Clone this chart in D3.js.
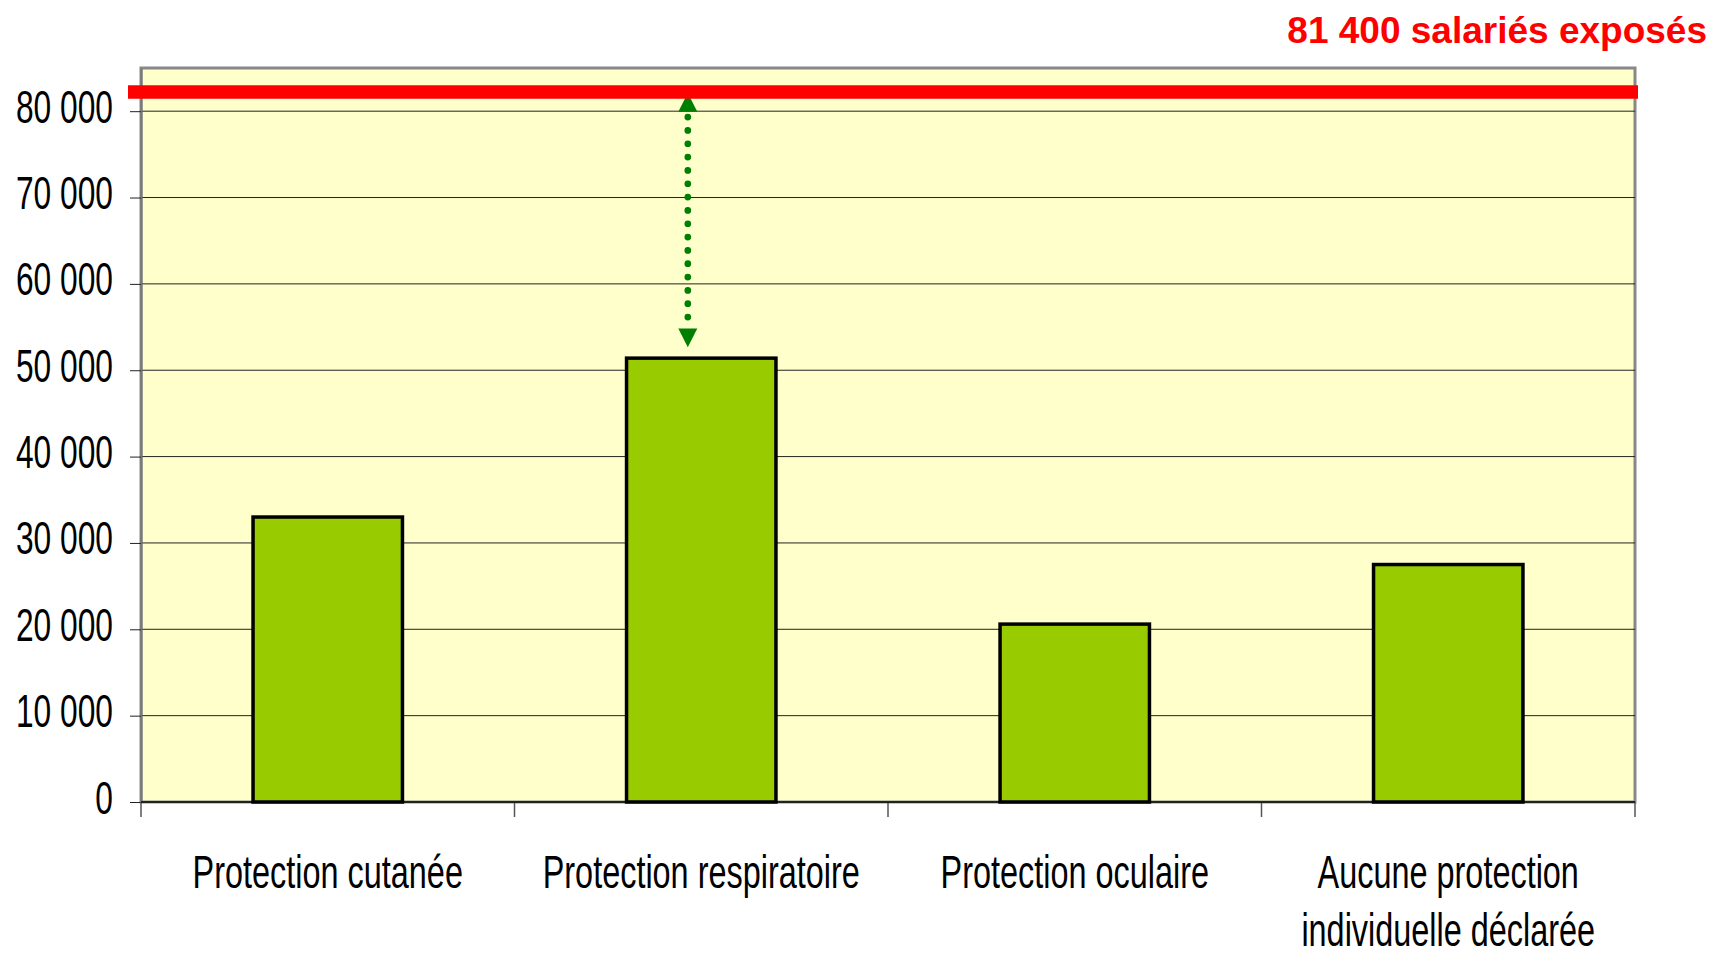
<!DOCTYPE html>
<html>
<head>
<meta charset="utf-8">
<script src="https://cdn.jsdelivr.net/npm/d3@7"></script>
<style>
  body { margin: 0; background: #fff; }
  text { font-family: "Liberation Sans", Arial, sans-serif; }
</style>
</head>
<body>
<svg id="chart"></svg>
<script>
// data
const categories = [
  'Protection cutanée',
  'Protection respiratoire',
  'Protection oculaire',
  'Aucune protection\nindividuelle déclarée',
];
const values = [33000, 51400, 20600, 27500];
const totalExposed = 81400;
const totalLabel = '81 400 salariés exposés';
const yTicks = [0, 10000, 20000, 30000, 40000, 50000, 60000, 70000, 80000];
const yMax = 85000;

const width = 1715;
const height = 955;
const margin = { top: 68, right: 80, bottom: 153, left: 141 };
const chartWidth = width - margin.left - margin.right;
const chartHeight = height - margin.top - margin.bottom;
const squeeze = 0.69; // narrow look of the labels

const fmt = d3.formatLocale({ decimal: ',', thousands: ' ', grouping: [3], currency: ['', ''] }).format(',');

const svg = d3.select('#chart').attr('width', width).attr('height', height);
const g = svg.append('g').attr('transform', `translate(${margin.left}, ${margin.top})`);

const xScale = d3.scaleBand()
  .domain(categories)
  .range([0, chartWidth])
  .paddingInner(0.6)
  .paddingOuter(0.3);

const yScale = d3.scaleLinear()
  .domain([0, yMax])
  .range([chartHeight, 0]);

// plot area
g.append('rect')
  .attr('width', chartWidth)
  .attr('height', chartHeight)
  .attr('fill', '#ffffcc')
  .attr('stroke', '#888')
  .attr('stroke-width', 3);

// gridlines
g.append('g')
  .selectAll('line')
  .data(yTicks.filter((d) => d > 0))
  .enter()
  .append('line')
  .attr('x1', 0)
  .attr('x2', chartWidth)
  .attr('y1', (d) => yScale(d))
  .attr('y2', (d) => yScale(d))
  .attr('stroke', '#222')
  .attr('stroke-width', 1);

// y axis
const yAxis = g.append('g')
  .call(d3.axisLeft(yScale).tickValues(yTicks).tickSize(11).tickSizeOuter(0).tickFormat(fmt));
yAxis.select('.domain').attr('stroke', '#777').attr('stroke-width', 2);
yAxis.selectAll('.tick line').attr('stroke', '#222');
yAxis.selectAll('.tick text')
  .attr('x', null)
  .attr('dy', null)
  .attr('transform', `translate(-28, 11) scale(${squeeze}, 1)`)
  .attr('font-size', 46)
  .attr('fill', '#000')
  .attr('font-family', '"Liberation Sans", Arial, sans-serif');

// x axis: ticks on band edges
const edges = [0].concat(categories.map((c) => xScale(c) + xScale.bandwidth() + xScale.step() * xScale.paddingInner() / 2));
edges[edges.length - 1] = chartWidth;
g.append('g')
  .selectAll('line')
  .data(edges)
  .enter()
  .append('line')
  .attr('x1', (d) => d)
  .attr('x2', (d) => d)
  .attr('y1', chartHeight)
  .attr('y2', chartHeight + 15)
  .attr('stroke', '#555')
  .attr('stroke-width', 1.5);

g.append('line')
  .attr('x1', 0)
  .attr('x2', chartWidth)
  .attr('y1', chartHeight)
  .attr('y2', chartHeight)
  .attr('stroke', '#222')
  .attr('stroke-width', 2);

// bars
g.append('g')
  .selectAll('rect')
  .data(values)
  .enter()
  .append('rect')
  .attr('x', (d, i) => xScale(categories[i]))
  .attr('y', (d) => yScale(d))
  .attr('width', xScale.bandwidth())
  .attr('height', (d) => chartHeight - yScale(d))
  .attr('fill', '#99cc00')
  .attr('stroke', '#000')
  .attr('stroke-width', 3.5);

// category labels
const labels = g.append('g')
  .selectAll('text')
  .data(categories)
  .enter()
  .append('text')
  .attr('transform', (d) => `translate(${xScale(d) + xScale.bandwidth() / 2}, ${chartHeight + 86}) scale(0.705, 1)`)
  .attr('text-anchor', 'middle')
  .attr('font-size', 46)
  .attr('fill', '#000');
labels.each(function (d) {
  d3.select(this)
    .selectAll('tspan')
    .data(d.split('\n'))
    .enter()
    .append('tspan')
    .attr('x', 0)
    .attr('y', (_, i) => i * 58)
    .text((t) => t);
});

// gap arrow between total and the respiratory bar
const gapIdx = 1;
const ax = xScale(categories[gapIdx]) + xScale.bandwidth() * 0.41;
const yTop = yScale(totalExposed);
const yBot = yScale(values[gapIdx]) - 11;
const green = '#008000';
g.append('line')
  .attr('x1', ax)
  .attr('x2', ax)
  .attr('y1', yTop + 18)
  .attr('y2', yBot - 28)
  .attr('stroke', green)
  .attr('stroke-width', 6.7)
  .attr('stroke-linecap', 'round')
  .attr('stroke-dasharray', '0 13.33');
g.append('path')
  .attr('d', `M${ax},${yTop - 6}l-9.5,18.7h19z`)
  .attr('fill', green);
g.append('path')
  .attr('d', `M${ax},${yBot}l-9.5,-18.7h19z`)
  .attr('fill', green);

// total exposed line
g.append('line')
  .attr('x1', -13)
  .attr('x2', chartWidth + 3)
  .attr('y1', yTop - 7)
  .attr('y2', yTop - 7)
  .attr('stroke', '#ff0000')
  .attr('stroke-width', 13.5);

svg.append('text')
  .attr('x', 1707)
  .attr('y', 43)
  .attr('text-anchor', 'end')
  .attr('font-size', 37)
  .attr('font-weight', 'bold')
  .attr('fill', '#ff0000')
  .text(totalLabel);
</script>
</body>
</html>
